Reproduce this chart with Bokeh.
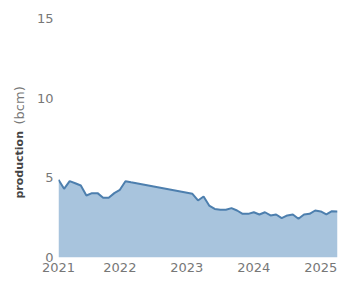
from bokeh.plotting import figure
from bokeh.layouts import row
from bokeh.models import ColumnDataSource, FixedTicker, CustomJSTickFormatter, Label, Range1d
from bokeh.embed import file_html
from bokeh.resources import INLINE

months_a = ["2021-02", "2021-03", "2021-04", "2021-05", "2021-06", "2021-07", "2021-08",
            "2021-09", "2021-10", "2021-11", "2021-12", "2022-01", "2022-02", "2022-03"]
values_a = [4.88, 4.31, 4.79, 4.66, 4.52, 3.89, 4.04, 4.04, 3.75, 3.75, 4.04, 4.25, 4.79, 4.72]

months_b = ["2023-02", "2023-03", "2023-04", "2023-05", "2023-06", "2023-07", "2023-08",
            "2023-09", "2023-10", "2023-11", "2023-12", "2024-01", "2024-02", "2024-03",
            "2024-04", "2024-05", "2024-06", "2024-07", "2024-08", "2024-09", "2024-10",
            "2024-11", "2024-12", "2025-01", "2025-02", "2025-03", "2025-04"]
values_b = [4.0, 3.58, 3.83, 3.26, 3.05, 3.0, 3.0, 3.1, 2.95, 2.74, 2.74, 2.84, 2.70, 2.84,
            2.64, 2.70, 2.47, 2.64, 2.70, 2.43, 2.70, 2.74, 2.95, 2.89, 2.70, 2.91, 2.89]

year_ticks = [2021, 2022, 2023, 2024, 2025]
y_ticks = [0, 5, 10, 15]

months = months_a + months_b
values = values_a + values_b


def to_year(m):
    y, mo = m.split("-")
    return int(y) + (int(mo) - 1) / 12.0


xs = [to_year(m) for m in months]
src = ColumnDataSource(dict(x=xs, y=values, y0=[0] * len(values)))

# narrow panel holding the y-axis title (bold + regular parts)
t = figure(width=30, height=280, output_backend="svg", toolbar_location=None,
           x_axis_location=None, y_axis_location=None,
           min_border_left=0, min_border_right=0, min_border_top=0, min_border_bottom=0)
t.grid.visible = False
t.outline_line_color = None
t.add_layout(Label(x=19, y=59, x_units="screen", y_units="screen", angle=1.5708,
                   text="production", text_font="DejaVu Sans", text_font_style="bold",
                   text_font_size="11px", text_color="#444444",
                   text_align="left", text_baseline="middle"))
t.add_layout(Label(x=19, y=133, x_units="screen", y_units="screen", angle=1.5708,
                   text="(bcm)", text_font="DejaVu Sans",
                   text_font_size="13px", text_color="#777777",
                   text_align="left", text_baseline="middle"))

p = figure(width=309, height=280, output_backend="svg", toolbar_location=None,
           x_range=Range1d(xs[0], xs[-1]), y_range=Range1d(0, 15),
           min_border_left=28, min_border_right=2, min_border_top=18, min_border_bottom=23)

p.varea(x="x", y1="y0", y2="y", source=src, fill_color="#a8c4dd", fill_alpha=1.0)
p.line(x="x", y="y", source=src, line_color="#4d7fae", line_width=2)

ticks = [xs[0]] + year_ticks[1:]
p.xaxis.ticker = FixedTicker(ticks=ticks)
p.xaxis.formatter = CustomJSTickFormatter(code="return Math.floor(tick + 0.001).toString();")
p.yaxis.ticker = FixedTicker(ticks=y_ticks)

for ax in (p.xaxis, p.yaxis):
    ax.axis_line_color = None
    ax.major_tick_line_color = None
    ax.minor_tick_line_color = None
    ax.major_tick_out = 0
    ax.major_tick_in = 0
    ax.minor_tick_out = 0
    ax.major_label_text_color = "#777777"
    ax.major_label_text_font = "DejaVu Sans"
    ax.major_label_text_font_size = "13px"
p.xaxis.major_label_standoff = 5
p.yaxis.major_label_standoff = 5

p.grid.visible = False
p.outline_line_color = None
p.background_fill_color = "white"
p.border_fill_color = "white"

layout = row(t, p)
open("out.html", "w").write(file_html(layout, INLINE))
